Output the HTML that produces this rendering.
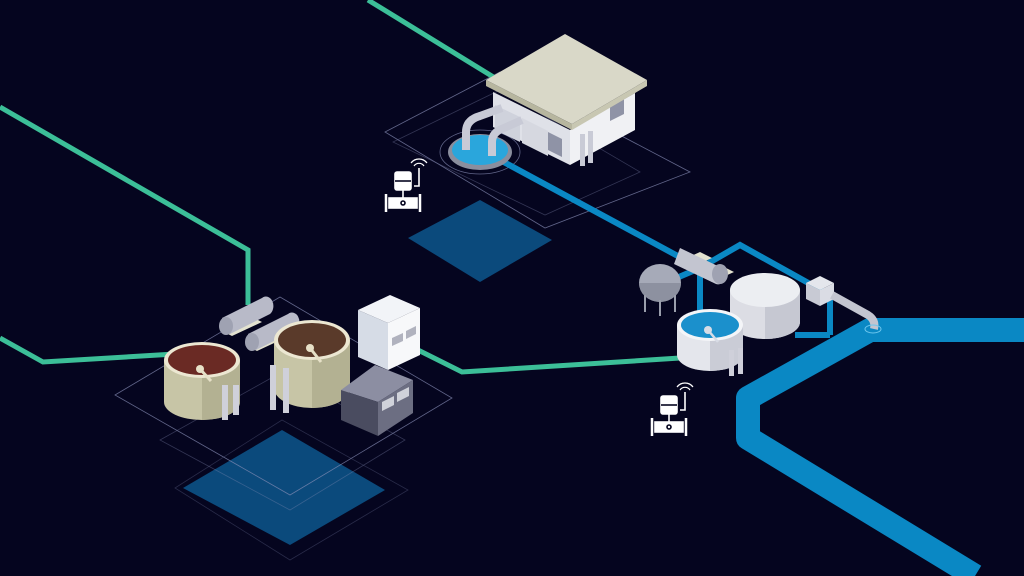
<!DOCTYPE html>
<html><head><meta charset="utf-8"><style>
html,body{margin:0;padding:0;background:#05051f;}
svg{display:block}
</style></head><body>
<svg width="1024" height="576" viewBox="0 0 1024 576" xmlns="http://www.w3.org/2000/svg">
<rect width="1024" height="576" fill="#05051f"/>
<polygon points="408,238 480,200 552,240 480,282" fill="#0b4a7c"/>
<polygon points="183,488 282,430 385,490 290,545" fill="#0b4a7c"/>
<g fill="none" stroke="#8a90b8" stroke-width="0.8" opacity="0.7">
<polygon points="385,132 500,72 690,172 545,228"/>
<polygon points="393,142 500,90 640,172 545,215" opacity="0.5"/>
<polygon points="115,395 280,297 452,398 290,495"/>
<polygon points="160,440 282,372 405,440 290,510" opacity="0.5"/>
<polygon points="175,488 282,420 408,490 290,560" opacity="0.4"/>
<ellipse cx="480" cy="152" rx="40" ry="22"/>
</g>
<g fill="none" stroke="#3cbf98" stroke-width="5" stroke-linejoin="miter">
<polyline points="368,0 495,78"/>
<polyline points="0,107 248,250 248,305"/>
<polyline points="0,338 43,362 175,354"/>
<polyline points="418,350 462,372 680,358"/>
</g>
<polyline points="1024,330 870,330 748,398 748,438 975,576" fill="none" stroke="#0a88c4" stroke-width="24" stroke-linejoin="round"/>
<g fill="none" stroke="#0a88c4" stroke-width="6">
<polyline points="500,160 700,268"/>
<polyline points="700,268 740,245 830,295 830,335"/>
<polyline points="700,268 700,320"/>
<polyline points="660,285 700,268"/>
<polyline points="795,335 830,335"/>
</g>
<!-- building -->
<polygon points="493,92 570,130 570,165 493,127" fill="#dfe1e8"/>
<polygon points="570,130 635,93 635,130 570,165" fill="#f0f1f4"/>
<polygon points="495,105 520,117 520,142 495,130" fill="#cfd2dc"/>
<polygon points="522,118 548,131 548,156 522,143" fill="#d6d8e0"/>
<polygon points="548,132 562,139 562,157 548,150" fill="#8f93a6"/>
<polygon points="610,104 624,96 624,114 610,121" fill="#8f93a6"/>
<polygon points="486,80 565,34 647,80 572,124" fill="#d9d8c8"/>
<polygon points="486,80 572,124 572,130 486,86" fill="#b7b69f"/>
<polygon points="572,124 647,80 647,86 572,130" fill="#c8c7b2"/>
<rect x="580" y="134" width="5" height="32" fill="#c9cbd6"/>
<rect x="588" y="131" width="5" height="32" fill="#c9cbd6"/>
<ellipse cx="480" cy="152" rx="32" ry="18" fill="#8a8e9e"/>
<ellipse cx="480" cy="150" rx="28" ry="15" fill="#2aa6dc"/>
<path d="M466,150 v-18 q0,-12 14,-16 l22,-8" fill="none" stroke="#c8cad6" stroke-width="8"/>
<path d="M492,156 v-14 q0,-10 12,-14 l18,-8" fill="none" stroke="#c8cad6" stroke-width="8"/>
<g id="m" fill="none" stroke="#fff" stroke-width="1.6">
<rect x="395" y="172" width="16" height="18" rx="2" fill="#fff"/>
<line x1="395" y1="181" x2="411" y2="181" stroke="#05051f"/>
<line x1="403" y1="190" x2="403" y2="198"/>
<rect x="389" y="198" width="28" height="10" fill="#fff"/>
<circle cx="403" cy="203" r="2" stroke="#05051f"/>
<line x1="386" y1="194" x2="386" y2="212" stroke-width="2.5"/>
<line x1="420" y1="194" x2="420" y2="212" stroke-width="2.5"/>
<polyline points="414,186 419,186 419,168"/>
<path d="M414,166 a6,6 0 0 1 10,0 M411,163 a10,10 0 0 1 16,0" stroke-width="1.2"/>
</g>
<use href="#m" transform="translate(266,224)"/>
<polygon points="220,330 250,316 262,322 232,336" fill="#e3e2d0"/>
<polygon points="245,345 275,331 287,337 257,351" fill="#e3e2d0"/>
<path d="M222,318 l40,-20 a7,9 0 0 1 8,16 l-40,20 z" fill="#b8bac8"/>
<ellipse cx="226" cy="326" rx="7" ry="9" fill="#9fa2b2"/>
<path d="M248,334 l40,-20 a7,9 0 0 1 8,16 l-40,20 z" fill="#b8bac8"/>
<ellipse cx="252" cy="342" rx="7" ry="9" fill="#9fa2b2"/>
<path d="M164,360 v42 a38,18 0 0 0 76,0 v-42 z" fill="#c7c5a6"/>
<path d="M202,360 h38 v42 a38,18 0 0 1 -38,18 z" fill="#b3b192"/>
<ellipse cx="202" cy="360" rx="38" ry="18" fill="#ece7d2"/>
<ellipse cx="202" cy="360" rx="34" ry="15" fill="#6a2a24"/>
<line x1="200" y1="369" x2="211" y2="381" stroke="#e7e1c8" stroke-width="3"/>
<circle cx="200" cy="369" r="4" fill="#e7e1c8"/>
<rect x="222" y="385" width="6" height="35" fill="#cfd0da"/>
<rect x="233" y="385" width="6" height="30" fill="#cfd0da"/>
<path d="M274,340 v48 a38,20 0 0 0 76,0 v-48 z" fill="#c7c5a6"/>
<path d="M312,340 h38 v48 a38,20 0 0 1 -38,20 z" fill="#b3b192"/>
<ellipse cx="312" cy="340" rx="38" ry="20" fill="#ece7d2"/>
<ellipse cx="312" cy="340" rx="34" ry="17" fill="#5a3a2a"/>
<line x1="310" y1="348" x2="321" y2="362" stroke="#e7e1c8" stroke-width="3"/>
<circle cx="310" cy="348" r="4" fill="#e7e1c8"/>
<rect x="270" y="365" width="6" height="45" fill="#cfd0da"/>
<rect x="283" y="368" width="6" height="45" fill="#cfd0da"/>
<polygon points="358,310 390,295 420,308 388,323" fill="#f2f4f8"/>
<polygon points="358,310 388,323 388,370 358,357" fill="#d6dce6"/>
<polygon points="388,323 420,308 420,355 388,370" fill="#f7f8fa"/>
<polygon points="392,338 403,333 403,341 392,346" fill="#b0b2be"/>
<polygon points="406,331 416,326 416,334 406,339" fill="#b0b2be"/>
<polygon points="341,390 375,365 413,380 378,402" fill="#8c8ea2"/>
<polygon points="341,390 378,402 378,436 341,420" fill="#4a4c60"/>
<polygon points="378,402 413,380 413,413 378,436" fill="#6c6e82"/>
<polygon points="382,402 394,396 394,405 382,411" fill="#d0d2da"/>
<polygon points="397,393 409,387 409,396 397,402" fill="#d0d2da"/>
<g>
<ellipse cx="660" cy="283" rx="21" ry="19" fill="#a6aab8"/>
<path d="M639,283 a21,19 0 0 0 42,0 z" fill="#8d91a0"/>
<g stroke="#9a9eac" stroke-width="2"><line x1="645" y1="295" x2="645" y2="312"/><line x1="660" y1="300" x2="660" y2="316"/><line x1="675" y1="295" x2="675" y2="312"/></g>
<polygon points="678,262 700,252 712,258 690,268" fill="#e3e2d0"/>
<polygon points="702,276 722,266 734,272 712,282" fill="#e3e2d0"/>
<path d="M680,248 l42,20 a7,9 0 0 1 -6,16 l-42,-20 z" fill="#c3c5d0"/>
<ellipse cx="720" cy="274" rx="8" ry="10" fill="#9fa2b2"/>
<path d="M730,290 v32 a35,17 0 0 0 70,0 v-32 z" fill="#dcdde4"/>
<path d="M765,290 h35 v32 a35,17 0 0 1 -35,17 z" fill="#c6c8d2"/>
<ellipse cx="765" cy="290" rx="35" ry="17" fill="#eceef2"/>
<path d="M677,325 v30 a33,16 0 0 0 66,0 v-30 z" fill="#e4e6ec"/>
<path d="M710,325 h33 v30 a33,16 0 0 1 -33,16 z" fill="#caccd6"/>
<ellipse cx="710" cy="325" rx="33" ry="16" fill="#f4f5f8"/>
<ellipse cx="710" cy="325" rx="29" ry="13" fill="#1b90cc"/>
<line x1="708" y1="330" x2="718" y2="342" stroke="#d8dce6" stroke-width="2.5"/>
<circle cx="708" cy="330" r="4" fill="#d8dce6"/>
<rect x="729" y="350" width="5" height="26" fill="#cfd0da"/>
<rect x="738" y="348" width="5" height="26" fill="#cfd0da"/>
<polygon points="806,283 820,276 834,283 820,290" fill="#e4e6ec"/>
<polygon points="806,283 820,290 820,306 806,299" fill="#c8cad4"/>
<polygon points="820,290 834,283 834,299 820,306" fill="#dadce4"/>
<path d="M832,295 l36,20 q8,5 6,14" fill="none" stroke="#c3c5d0" stroke-width="8"/>
<ellipse cx="873" cy="329" rx="8" ry="4" fill="none" stroke="#6cc6ee" stroke-width="1"/>
</g>
</svg>
</body></html>
